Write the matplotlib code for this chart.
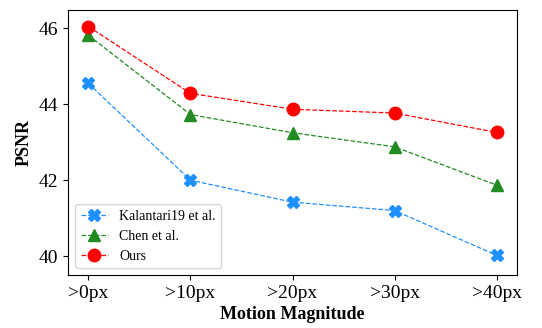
import matplotlib
matplotlib.use("Agg")
import matplotlib.pyplot as plt

plt.rcParams['font.family'] = ['Liberation Serif', 'DejaVu Serif']

labels = [">0px", ">10px", ">20px", ">30px", ">40px"]
kalantari = [44.55, 42.0, 41.42, 41.2, 40.02]
chen = [45.82, 43.73, 43.25, 42.88, 41.87]
ours = [46.05, 44.29, 43.87, 43.77, 43.26]

x = range(len(labels))

fig = plt.figure(figsize=(5.42, 3.28), dpi=100)
ax = fig.add_axes([68/542, 1-275/328, (517-68)/542, (275-9.5)/328])

ax.plot(x, kalantari, "X--", color="dodgerblue", linewidth=0.9, markersize=9, label="Kalantari19 et al.")
ax.plot(x, chen, "^--", color="forestgreen", linewidth=0.9, markersize=9, label="Chen et al.")
ax.plot(x, ours, "o--", color="red", linewidth=0.9, markersize=9, label="Ours")

ax.set_ylim(39.5, 46.5)
ax.set_yticks([40, 42, 44, 46])
ax.set_xticks(list(x))
ax.set_xticklabels(labels)
ax.tick_params(labelsize=14)
ax.set_xlabel("Motion Magnitude", fontsize=13, fontweight="bold", labelpad=3)
ax.set_ylabel("PSNR", fontsize=13, fontweight="bold")
ax.legend(loc="lower left", fontsize=10)

fig.savefig("out.png")
